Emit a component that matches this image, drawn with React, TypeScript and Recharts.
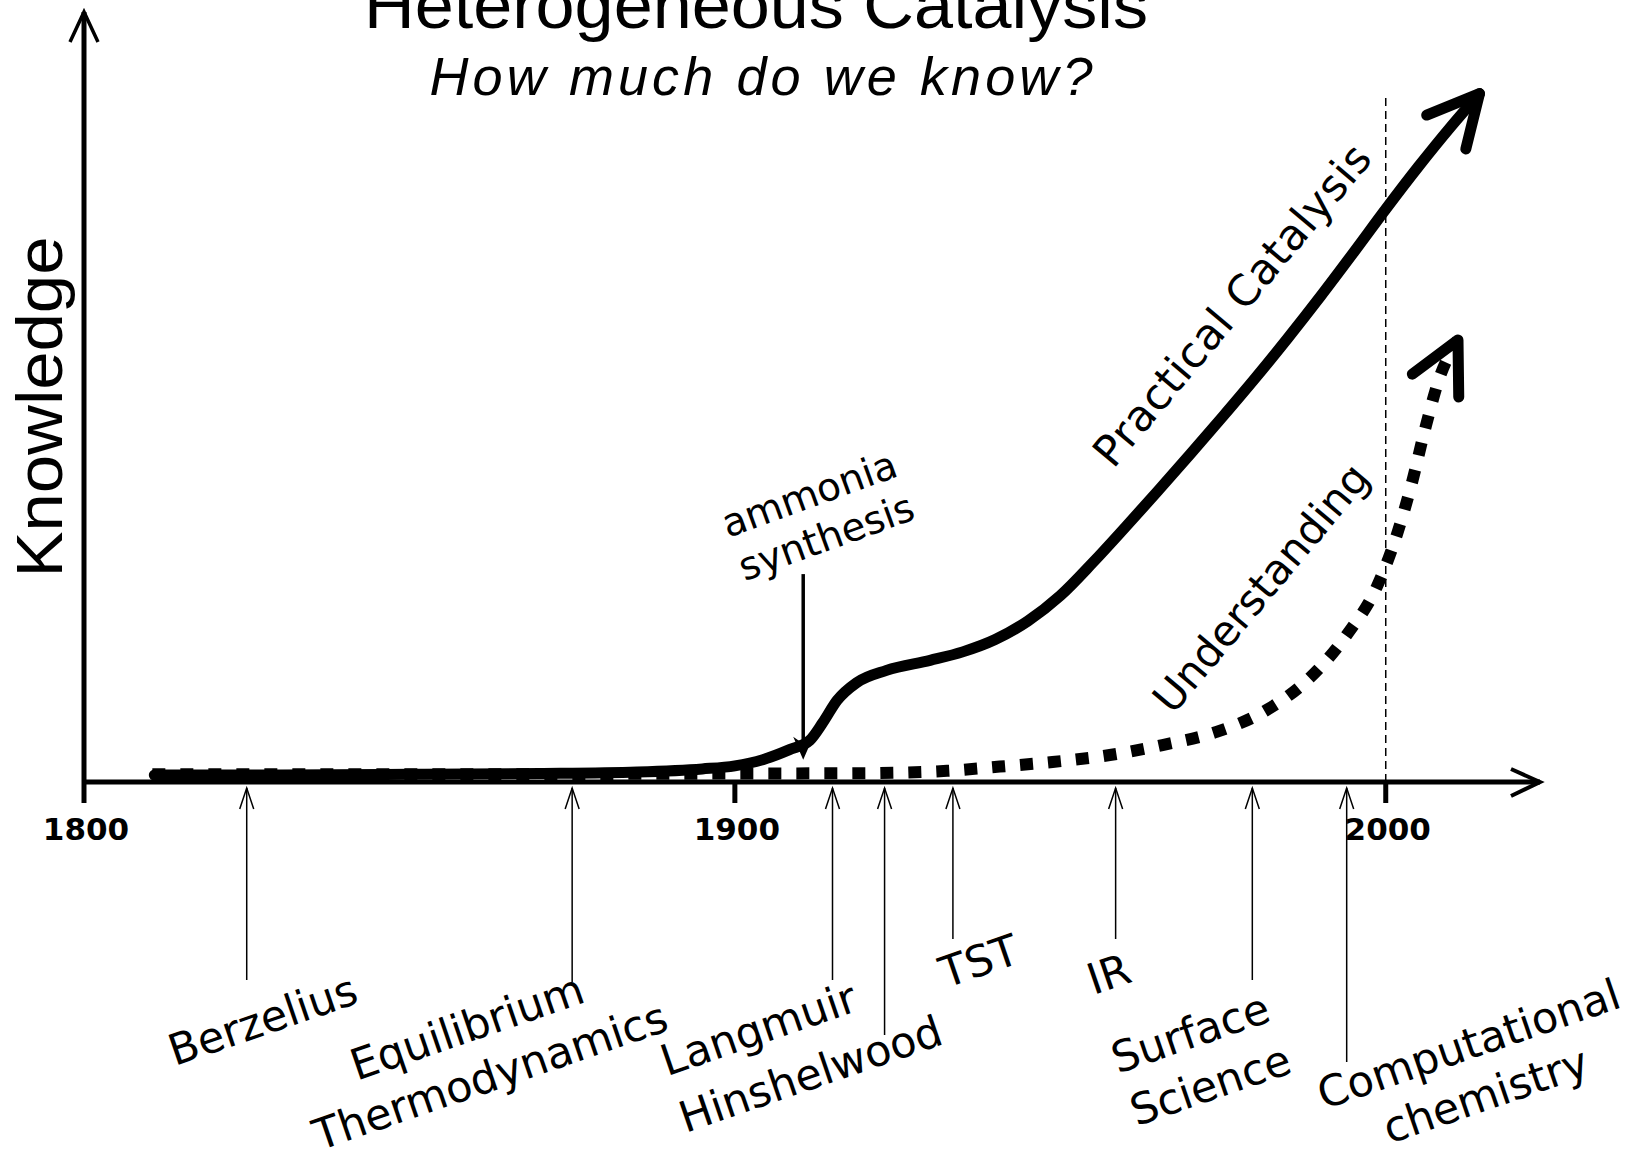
import React from "react";
import { LineChart, Line, XAxis, YAxis, ReferenceLine } from "recharts";

// time axis
const MAJOR_YEARS = [1800, 1900, 2000];
const X_DOMAIN = [1800, 2023.7];
const Y_DOMAIN = [0, 100];

// milestones pointed at from below the axis
const EVENT_YEARS = [1825, 1875, 1915, 1923, 1933.5, 1958.5, 1979.5, 1994];
const EVENT_LABELS = [
  ["Berzelius"],
  ["Equilibrium", "Thermodynamics"],
  ["Langmuir"],
  ["Hinshelwood"],
  ["TST"],
  ["IR"],
  ["Surface", "Science"],
  ["Computational", "chemistry"],
];

// Practical Catalysis (solid)
const PRACTICAL_YEARS = [
  1810.8, 1830, 1850, 1870, 1885, 1895, 1900, 1904.3, 1908.4, 1911.5, 1913.5,
  1915.7, 1918.7, 1923.3, 1930, 1935, 1940, 1945, 1950, 1955, 1960, 1965, 1970,
  1975, 1980, 1985, 1990, 1995, 2000, 2005, 2010, 2014.4,
];
const PRACTICAL_VALUES = [
  0.9, 0.9, 1.0, 1.1, 1.3, 1.7, 2.1, 2.9, 4.2, 5.4, 7.7, 10.6, 12.9, 14.5,
  15.8, 16.9, 18.5, 20.9, 24.2, 28.5, 33.1, 37.8, 42.6, 47.5, 52.5, 57.7, 63.1,
  68.7, 74.4, 79.9, 85.1, 89.4,
];

// Understanding (dotted)
const UNDERSTANDING_YEARS = [
  1810.5, 1850, 1900, 1920, 1932.6, 1940.7, 1948.8, 1957.6, 1965.7, 1974.0,
  1981.7, 1988.3, 1994.0, 1998.6, 2001.7, 2004.0, 2006.0, 2008.3, 2011.1,
];
const UNDERSTANDING_VALUES = [
  1.0, 1.0, 1.1, 1.15, 1.45, 2.0, 2.6, 3.5, 4.8, 6.5, 9.35, 13.5, 19.1, 25.3,
  32.1, 38.8, 45.7, 52.6, 57.4,
];

// annotations
const AMMONIA_YEAR = 1910.5;
const AMMONIA_FROM = 27;
const AMMONIA_TO = 2.9;
const NOW_YEAR = 2000;
const NOW_TOP = 89;

// label placement under the axis (pixels, relative to the arrow)
const EVENT_LAYOUT = [
  { len: 198, lines: [[16, 238]] },
  { len: 200, lines: [[-105, 245], [-82, 294]] },
  { len: 198, lines: [[-74, 247]] },
  { len: 253, lines: [[-74, 292]] },
  { len: 157, lines: [[26, 179]] },
  { len: 157, lines: [[-7, 192]] },
  { len: 198, lines: [[-62, 251], [-42, 303]] },
  { len: 280, lines: [[122, 262], [139, 313]] },
];

const LABEL_FONT = "'DejaVu Sans', Verdana, sans-serif";
const TITLE_FONT = "'Liberation Sans', Arial, sans-serif";

const practicalData = PRACTICAL_YEARS.map((year, i) => ({ year, value: PRACTICAL_VALUES[i] }));
const understandingData = UNDERSTANDING_YEARS.map((year, i) => ({ year, value: UNDERSTANDING_VALUES[i] }));

// open arrow head at the last point of a line
function makeArrowDot(count: number) {
  const seen: Record<number, [number, number]> = {};
  return (props: any) => {
    const { cx, cy, index } = props;
    seen[index] = [cx, cy];
    if (index !== count - 1) return <g key={`d-${index}`} />;
    const prev = seen[index - 1] ?? [cx - 1, cy];
    const back = Math.atan2(prev[1] - cy, prev[0] - cx);
    const wing = 57;
    const spread = (27 * Math.PI) / 180;
    const ax = cx + wing * Math.cos(back - spread);
    const ay = cy + wing * Math.sin(back - spread);
    const bx = cx + wing * Math.cos(back + spread);
    const by = cy + wing * Math.sin(back + spread);
    return (
      <path
        key={`d-${index}`}
        d={`M${ax},${ay} L${cx},${cy} L${bx},${by}`}
        fill="none"
        stroke="#000"
        strokeWidth={11}
        strokeDasharray="none"
        strokeLinecap="round"
        strokeLinejoin="round"
      />
    );
  };
}

const TimeTick = (props: any) => {
  const { x, y, payload } = props;
  const value = payload.value;
  if (MAJOR_YEARS.includes(value)) {
    return (
      <g>
        <line x1={x} y1={y} x2={x} y2={y + 21} stroke="#000" strokeWidth={5} />
        <text x={x + 2} y={y + 58} textAnchor="middle" fontFamily={LABEL_FONT} fontWeight="bold" fontSize={31} fill="#000">
          {value}
        </text>
      </g>
    );
  }
  const i = EVENT_YEARS.indexOf(value);
  if (i < 0) return <g />;
  const lay = EVENT_LAYOUT[i];
  const top = y + 6;
  return (
    <g>
      <line x1={x} y1={top} x2={x} y2={y + lay.len} stroke="#000" strokeWidth={1.5} />
      <path d={`M${x - 7},${top + 21} L${x},${top} L${x + 7},${top + 21}`} fill="none" stroke="#000" strokeWidth={1.5} />
      {EVENT_LABELS[i].map((t, k) => {
        const [dx, dy] = lay.lines[k];
        return (
          <text
            key={t}
            transform={`translate(${x + dx},${y + dy}) rotate(-19)`}
            textAnchor="middle"
            dominantBaseline="central"
            fontFamily={LABEL_FONT}
            fontSize={43}
            fill="#000"
          >
            {t}
          </text>
        );
      })}
    </g>
  );
};

const renderXDecor = (props: any) => {
  const vb = props.viewBox || { x: 84, y: 782, width: 1456, height: 372 };
  const tx = vb.x + vb.width;
  const ty = vb.y;
  return (
    <path d={`M${tx - 29},${ty - 13} L${tx},${ty} L${tx - 29},${ty + 14}`} fill="none" stroke="#000" strokeWidth={4} />
  );
};

const renderYDecor = (props: any) => {
  const vb = props.viewBox || { x: 0, y: 12, width: 84, height: 770 };
  const tx = vb.x + vb.width;
  const ty = vb.y;
  return (
    <g>
      <path d={`M${tx - 14},${ty + 30} L${tx},${ty} L${tx + 14},${ty + 30}`} fill="none" stroke="#000" strokeWidth={3.5} />
      <text
        transform="translate(62,407) rotate(-90)"
        textAnchor="middle"
        fontFamily={TITLE_FONT}
        fontSize={64}
        textLength={341}
        lengthAdjust="spacingAndGlyphs"
        fill="#000"
      >
        Knowledge
      </text>
      <text x={756} y={28} textAnchor="middle" fontFamily={TITLE_FONT} fontSize={66} textLength={784} lengthAdjust="spacingAndGlyphs" fill="#000">
        Heterogeneous Catalysis
      </text>
      <text x={761} y={95} textAnchor="middle" fontFamily={TITLE_FONT} fontStyle="italic" fontSize={54} textLength={663} lengthAdjust="spacing" fill="#000">
        How much do we know?
      </text>
      <text
        transform="translate(1232,305) rotate(-50)"
        textAnchor="middle"
        dominantBaseline="central"
        fontFamily={LABEL_FONT}
        fontSize={43}
        textLength={405}
        lengthAdjust="spacing"
        fill="#000"
      >
        Practical Catalysis
      </text>
      <text
        transform="translate(1261,588) rotate(-50)"
        textAnchor="middle"
        dominantBaseline="central"
        fontFamily={LABEL_FONT}
        fontSize={42}
        fill="#000"
      >
        Understanding
      </text>
    </g>
  );
};

const AmmoniaArrow = (props: any) => {
  const { x1, y1, x2, y2 } = props;
  return (
    <g>
      <line x1={x1} y1={y1} x2={x2} y2={y2 - 14} stroke="#000" strokeWidth={3.5} />
      <path d={`M${x2},${y2} L${x2 - 10},${y2 - 23} L${x2},${y2 - 16} L${x2 + 10},${y2 - 23} Z`} fill="#000" />
      <text transform={`translate(${x1 + 6},${y1 - 80}) rotate(-20)`} textAnchor="middle" dominantBaseline="central" fontFamily={LABEL_FONT} fontSize={39} fill="#000">
        ammonia
      </text>
      <text transform={`translate(${x1 + 23},${y1 - 37}) rotate(-20)`} textAnchor="middle" dominantBaseline="central" fontFamily={LABEL_FONT} fontSize={39} fill="#000">
        synthesis
      </text>
    </g>
  );
};

const NowLine = (props: any) => {
  const { x1, y1, x2, y2 } = props;
  return <line x1={x1} y1={y1} x2={x2} y2={y2} stroke="#000" strokeWidth={1.5} strokeDasharray="8 5" />;
};

export default function App() {
  return (
    <div style={{ position: "absolute", left: 0, top: 0, width: 1632, height: 1154, background: "#fff" }}>
      <LineChart width={1632} height={1154} margin={{ top: 12, right: 92, bottom: 0, left: 0 }}>
        <XAxis
          dataKey="year"
          type="number"
          domain={X_DOMAIN}
          allowDataOverflow
          ticks={[...MAJOR_YEARS, ...EVENT_YEARS]}
          interval={0}
          tick={<TimeTick />}
          tickLine={false}
          tickSize={0}
          tickMargin={0}
          height={372}
          axisLine={{ stroke: "#000", strokeWidth: 5 }}
          label={{ content: renderXDecor }}
        />
        <YAxis
          type="number"
          domain={Y_DOMAIN}
          allowDataOverflow
          width={84}
          tick={false}
          tickLine={false}
          axisLine={{ stroke: "#000", strokeWidth: 5 }}
          label={{ content: renderYDecor }}
        />
        <ReferenceLine
          segment={[{ x: NOW_YEAR, y: 0 }, { x: NOW_YEAR, y: NOW_TOP }]}
          ifOverflow="visible"
          shape={<NowLine />}
        />
        <Line
          data={understandingData}
          dataKey="value"
          type="monotone"
          stroke="#000"
          strokeWidth={12}
          strokeDasharray="13 15"
          dot={makeArrowDot(understandingData.length)}
          activeDot={false}
          isAnimationActive={false}
        />
        <Line
          data={practicalData}
          dataKey="value"
          type="monotone"
          stroke="#000"
          strokeWidth={11}
          strokeLinecap="round"
          dot={makeArrowDot(practicalData.length)}
          activeDot={false}
          isAnimationActive={false}
        />
        <ReferenceLine
          segment={[{ x: AMMONIA_YEAR, y: AMMONIA_FROM }, { x: AMMONIA_YEAR, y: AMMONIA_TO }]}
          ifOverflow="visible"
          shape={<AmmoniaArrow />}
        />
      </LineChart>
    </div>
  );
}
